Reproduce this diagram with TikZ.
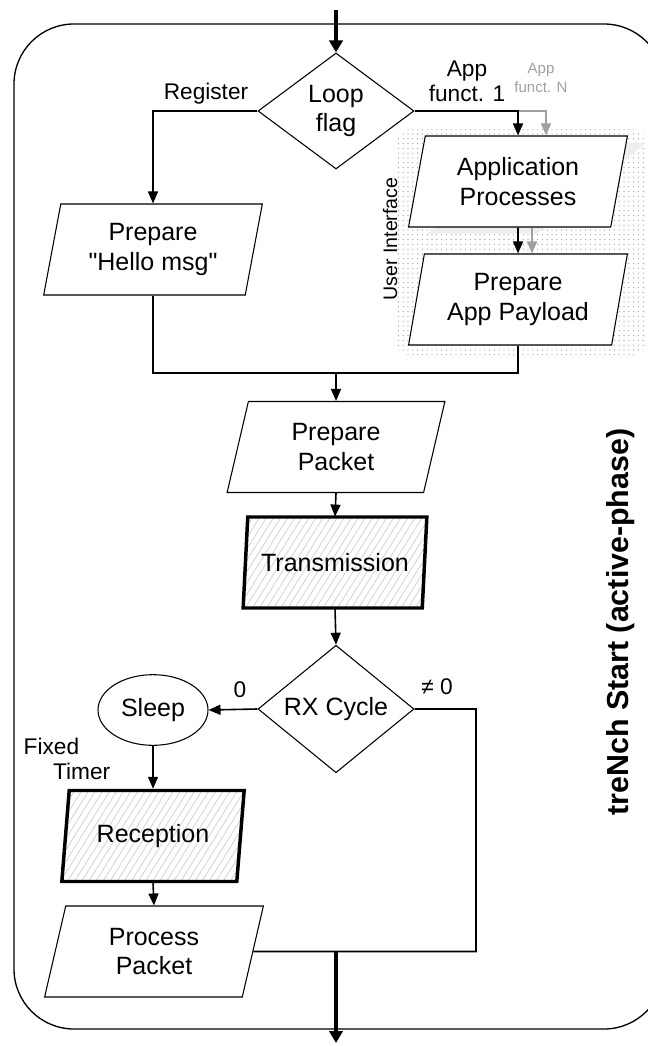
\documentclass[tikz,border=0pt]{standalone}
\usepackage{fontspec}
\setmainfont{Liberation Sans}
\usetikzlibrary{shapes.geometric,arrows.meta,patterns,patterns.meta}
\newcommand\boxfnt{\fontsize{18.75}{22}\selectfont}
\newcommand\lblfnt{\fontsize{17}{19}\selectfont}
\newcommand\grayfnt{\fontsize{11.25}{14.5}\selectfont}
\newcommand\uifnt{\fontsize{14.7}{17}\selectfont}
\newcommand\sidefnt{\fontsize{22.8}{26}\selectfont\bfseries}
\definecolor{lgray}{HTML}{A0A0A0}
\definecolor{shade}{HTML}{EEEEEE}
\begin{document}
\begin{tikzpicture}[x=0.75pt,y=-0.75pt,
 para/.style={trapezium, trapezium left angle=77, trapezium right angle=103,
   trapezium stretches=true, minimum width=164.25pt, minimum height=68.25pt,
   inner sep=0pt, draw, line width=0.8pt, fill=white, align=center, font=\boxfnt},
 hpara/.style={trapezium, trapezium left angle=78, trapezium right angle=102,
   trapezium stretches=true, minimum width=138pt, minimum height=68.25pt,
   inner sep=0pt, draw, line width=2.6pt,
   pattern={Lines[angle=58,distance=4.5pt,line width=0.6pt]}, pattern color=gray!35,
   align=center, font=\boxfnt},
 dec/.style={diamond, draw, line width=0.8pt, fill=white, minimum width=117pt,
   minimum height=87pt, inner sep=0pt, align=center, font=\boxfnt},
 oval/.style={ellipse, draw, line width=0.8pt, minimum width=82.5pt,
   minimum height=53pt, inner sep=0pt, font=\boxfnt},
 ln/.style={line width=1.2pt},
 arr/.style={line width=1.2pt, -{Triangle[length=9pt,width=7.5pt]}},
 garr/.style={line width=1.2pt, draw=lgray, -{Triangle[length=9pt,width=7.5pt]}},
 tharr/.style={line width=3pt, -{Triangle[length=9pt,width=10pt]}},
 lbl/.style={font=\lblfnt, align=center, inner sep=0pt},
]
\clip (0,0) rectangle (648,1046);
% frame
\draw[line width=1pt, rounded corners=45pt] (14,24) rectangle (664,1029);
% user interface dotted region
\node[rectangle, rounded corners=8pt, minimum width=186pt, minimum height=169.5pt,
  pattern={Dots[distance=3.6pt,radius=0.5pt]}, pattern color=gray!75] (ui) at (521,242) {};
\node[rotate=90, font=\uifnt, inner sep=0pt] (uitxt) at (390,239) {User Interface};
% nodes
\node[dec] (loop) at (336,111) {Loop\\flag};
\node[para] (hello) at (153,249.5) {Prepare\\\textquotedbl Hello msg\textquotedbl};
\node[para, draw=none, fill=shade] (appN) at (537,188) {\strut};
\node[para] (app) at (518,181.5) {Application\\Processes};
\node[para] (payload) at (518,299.5) {Prepare\\App Payload};
\node[para] (packet) at (336,447) {Prepare\\Packet};
\node[hpara] (trans) at (335,562.5) {Transmission};
\node[dec] (rx) at (336,709) {RX Cycle};
\node[oval] (sleep) at (153,710) {Sleep};
\node[hpara] (rec) at (153,836) {Reception};
\node[para] (proc) at (154,951.5) {Process\\Packet};
% labels
\node[lbl] (lreg) at (206,94) {Register};
\node[lbl] (lapp1) at (467,81) {App\\funct. 1};
\node[font=\grayfnt, text=lgray, align=center, inner sep=0pt] (lappN) at (541,78) {App\\funct. N};
\node[lbl] (lzero) at (240,690) {0};
\node[lbl] (lnz) at (437,687) {≠ 0};
\node[lbl, align=left] (ltimer) at (67,759) {Fixed\\\hspace*{1.3em}Timer};
\node[rotate=90, font=\sidefnt, inner sep=0pt] (side) at (621,622) {treNch Start (active-phase)};
% connectors
\coordinate (in) at (336,10);
\draw[tharr] (in) -- (loop.north);
\draw[arr] (loop.west) -| (hello.north);
\coordinate (gs) at (app.north |- loop.east);
\coordinate (gN) at (546,111);
\draw[garr] (gs) -- (gN) -- (gN |- app.north);
\draw[arr] (loop.east) -| (app.north);
\coordinate (g2) at (532,240);
\draw[garr] (g2 |- app.south) -- (g2 |- payload.north);
\draw[arr] (app.south) -- (payload.north);
\coordinate (mg) at (336,373);
\draw[ln] (hello.south) |- (mg);
\draw[ln] (payload.south) |- (mg);
\draw[arr] (mg) -- (packet.north);
\draw[arr] (packet.south) -- (trans.north);
\draw[arr] (trans.south) -- (rx.north);
\draw[arr] (rx.west) -- (sleep.east);
\draw[arr] (sleep.south) -- (rec.north);
\draw[arr] (rec.south) -- (proc.north);
\coordinate (rj) at (476,951.5);
\draw[ln] (rx.east) -| (rj) -- (proc.east);
\coordinate (oj) at (336,951.5);
\coordinate (out) at (336,1043);
\draw[tharr] (oj) -- (out);
\end{tikzpicture}
\end{document}
